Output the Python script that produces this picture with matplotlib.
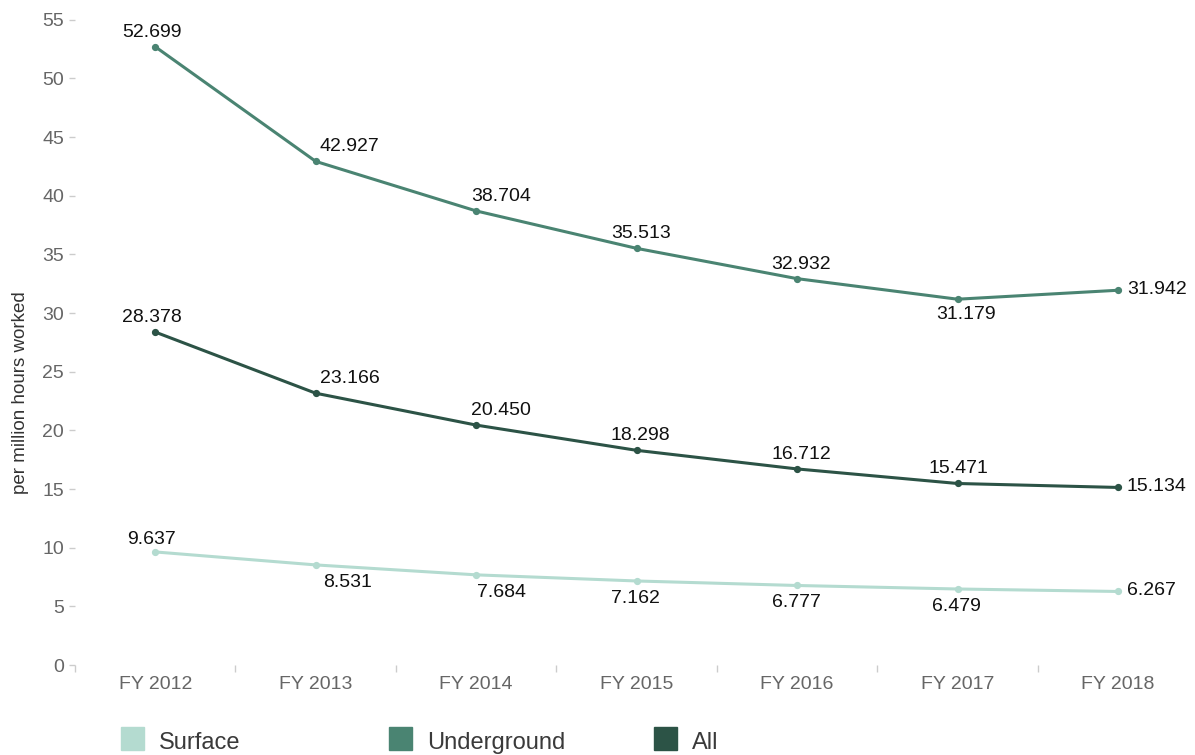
import matplotlib

matplotlib.use("Agg")
import matplotlib.pyplot as plt
from matplotlib.patches import Rectangle

years = ["FY 2012", "FY 2013", "FY 2014", "FY 2015", "FY 2016", "FY 2017", "FY 2018"]
surface = [9.637, 8.531, 7.684, 7.162, 6.777, 6.479, 6.267]
underground = [52.699, 42.927, 38.704, 35.513, 32.932, 31.179, 31.942]
all_mines = [28.378, 23.166, 20.450, 18.298, 16.712, 15.471, 15.134]
series_names = ["Surface", "Underground", "All"]
y_ticks = [0, 5, 10, 15, 20, 25, 30, 35, 40, 45, 50, 55]

colors = {"Surface": "#b4dbd0", "Underground": "#4a8472", "All": "#2c5346"}

# label placement in pixels: (dx, dy, ha); dy is baseline offset
above = [(-3, 10, "center"), (34, 10, "center"), (25, 10, "center"),
         (4, 10, "center"), (4, 10, "center"), (1, 10, "center"), (9, -4, "left")]
below_surface = [(-4, 8, "center"), (32, -22, "center"), (25, -22, "center"),
                 (-1, -22, "center"), (-1, -22, "center"), (-1, -22, "center"), (9, -4, "left")]
below_under = list(above)
below_under[5] = (9, -20, "center")
placement = {"Surface": below_surface, "Underground": below_under, "All": above}

plt.rcParams["font.family"] = ["Liberation Sans", "DejaVu Sans"]

fig = plt.figure(figsize=(11.95, 7.55), dpi=100)
ax = fig.add_axes([75 / 1195, 1 - 665 / 755, 1 - 75 / 1195, (665 - 8) / 755])

data = {"Surface": surface, "Underground": underground, "All": all_mines}
x = list(range(len(years)))
for name in series_names:
    vals = data[name]
    ax.plot(x, vals, color=colors[name], lw=2.2, marker="o", ms=4.2, zorder=3)
    for i, v in enumerate(vals):
        dx, dy, ha = placement[name][i]
        ax.annotate(f"{v:.3f}", (i, v), xytext=(dx, dy), textcoords="offset pixels",
                    ha=ha, va="baseline", fontsize=14, color="#111111")

ax.set_xlim(-0.5, 6.48)
ax.set_ylim(0, 56)
ax.set_xticks(x)
ax.set_xticklabels(years)
ax.set_xticks([i + 0.5 for i in range(-1, 6)], minor=True)
ax.set_yticks(y_ticks)
ax.tick_params(axis="x", which="major", length=0, pad=8, labelsize=14, labelcolor="#666666")
ax.tick_params(axis="x", which="minor", length=5, width=1, color="#cccccc")
ax.tick_params(axis="y", length=4, width=1, color="#cccccc", pad=4, labelsize=14, labelcolor="#666666")
for s in ax.spines.values():
    s.set_visible(False)
ax.set_ylabel("per million hours worked", fontsize=13.5, color="#333333")
ax.yaxis.set_label_coords(-0.041, 0.415)

legend_x = [121, 389, 654]
for name, lx in zip(series_names, legend_x):
    fig.add_artist(Rectangle((lx / 1195, 1 - 750 / 755), 23 / 1195, 23 / 755,
                             transform=fig.transFigure, color=colors[name]))
    fig.text((lx + 38) / 1195, 1 - 749 / 755, name, fontsize=17, color="#3a3a3a",
             ha="left", va="baseline")

fig.savefig("out.png", dpi=100)
